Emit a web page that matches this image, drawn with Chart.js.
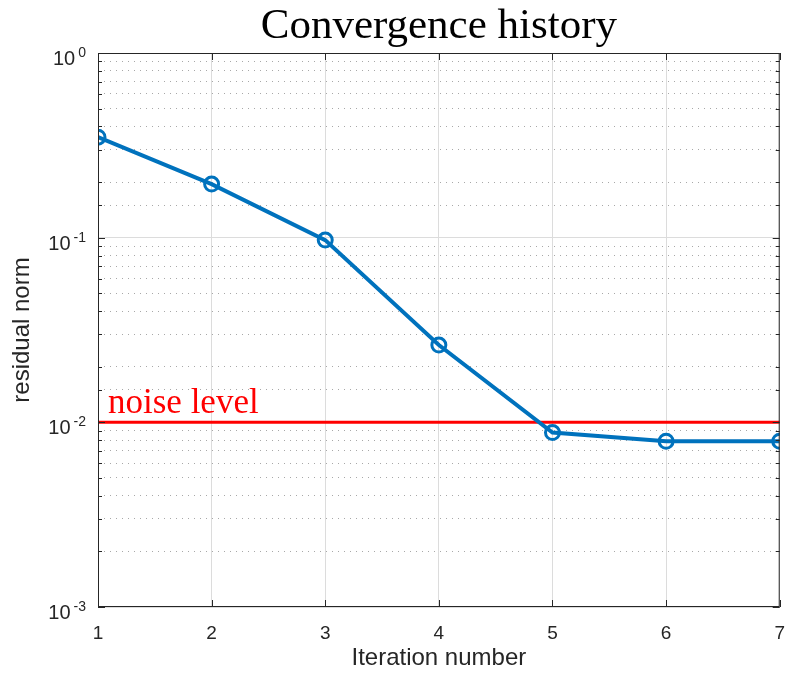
<!DOCTYPE html>
<html>
<head>
<meta charset="utf-8">
<script src="https://cdn.jsdelivr.net/npm/chart.js@4"></script>
<style>
  html, body { margin: 0; padding: 0; background: #fff; }
  #wrap { width: 800px; height: 678px; }
</style>
</head>
<body>
<div id="wrap"><canvas id="conv"></canvas></div>
<script>
// iterations and residual norms
const iterations = [1, 2, 3, 4, 5, 6, 7];
const residuals = [0.35, 0.195, 0.097, 0.0262, 0.0088, 0.0079, 0.0079];
const noiseLevel = 0.01;

// y axis decades, drawn as 10 with a raised exponent
const yDecades = [0.001, 0.01, 0.1, 1];
const yExponents = ["-3", "-2", "-1", "0"];

const decadeIndex = (v) => yDecades.findIndex((d) => Math.abs(v / d - 1) < 1e-6);
const isDecade = (v) => decadeIndex(v) >= 0;

// frame, inward ticks, title, y labels and "noise level" text (matlab style)
const matlabBox = {
    id: "matlabBox",
    afterDraw(chart) {
        const { ctx, chartArea: a, scales } = chart;
        ctx.save();
        ctx.strokeStyle = "#262626";
        ctx.lineWidth = 1;
        ctx.strokeRect(a.left + 0.5, a.top + 0.5, a.right - a.left - 1, a.bottom - a.top - 1);

        ctx.beginPath();
        scales.y.ticks.forEach((t) => {
            const y = Math.round(scales.y.getPixelForValue(t.value)) + 0.5;
            const len = isDecade(t.value) ? 7 : 4;
            ctx.moveTo(a.left, y);
            ctx.lineTo(a.left + len, y);
            ctx.moveTo(a.right, y);
            ctx.lineTo(a.right - len, y);
        });
        scales.x.ticks.forEach((t) => {
            const x = Math.round(scales.x.getPixelForValue(t.value)) + 0.5;
            ctx.moveTo(x, a.bottom);
            ctx.lineTo(x, a.bottom - 7);
            ctx.moveTo(x, a.top);
            ctx.lineTo(x, a.top + 7);
        });
        ctx.stroke();

        // y tick labels: 10^n
        ctx.fillStyle = "#262626";
        ctx.textAlign = "right";
        ctx.textBaseline = "alphabetic";
        scales.y.ticks.forEach((t) => {
            const i = decadeIndex(t.value);
            if (i < 0) return;
            const y = scales.y.getPixelForValue(t.value);
            const right = a.left - 12;
            ctx.font = "14px 'Liberation Sans', Arial";
            ctx.fillText(yExponents[i], right, y + 4);
            const w = ctx.measureText(yExponents[i]).width;
            ctx.font = "20px 'Liberation Sans', Arial";
            ctx.fillText("10", right - w - 3, y + 12);
        });

        // title centred over the plot area
        ctx.fillStyle = "#000";
        ctx.font = "43px 'Liberation Serif'";
        ctx.textAlign = "center";
        ctx.fillText("Convergence history", (a.left + a.right) / 2, 38);

        // noise level label
        ctx.fillStyle = "#ff0000";
        ctx.font = "35px 'Liberation Serif'";
        ctx.textAlign = "left";
        ctx.fillText("noise level", a.left + 10, scales.y.getPixelForValue(noiseLevel) - 9);
        ctx.restore();
    },
};

const convConfig = {
    type: "line",
    data: {
        datasets: [
            {
                label: "noise level",
                data: iterations.map((it) => ({ x: it, y: noiseLevel })),
                borderColor: "#ff0000",
                borderWidth: 3,
                pointRadius: 0,
                order: 2,
            },
            {
                label: "residual norm",
                data: iterations.map((it, i) => ({ x: it, y: residuals[i] })),
                borderColor: "#0072BD",
                borderWidth: 4,
                pointRadius: 7,
                pointBorderWidth: 3,
                pointBackgroundColor: "rgba(0,0,0,0)",
                pointBorderColor: "#0072BD",
                order: 1,
            },
        ],
    },
    options: {
        responsive: true,
        maintainAspectRatio: false,
        animation: false,
        layout: { padding: { top: 53, right: 20, left: 0, bottom: 0 } },
        plugins: {
            legend: { display: false },
            tooltip: { enabled: false },
        },
        scales: {
            x: {
                type: "linear",
                min: 1,
                max: 7,
                ticks: {
                    stepSize: 1,
                    padding: 15,
                    color: "#262626",
                    font: { family: "'Liberation Sans', Arial", size: 19 },
                },
                grid: { color: "#dcdcdc", drawTicks: false },
                border: { display: false },
                title: {
                    display: true,
                    text: "Iteration number",
                    color: "#262626",
                    font: { family: "'Liberation Sans', Arial", size: 24 },
                    padding: { top: 0, bottom: 5 },
                },
                afterFit(scale) {
                    scale.height = 71;
                },
            },
            y: {
                type: "logarithmic",
                min: 0.001,
                max: 1,
                ticks: {
                    autoSkip: false,
                    display: false,
                },
                grid: {
                    drawTicks: false,
                    color: (c) => (c.tick && isDecade(c.tick.value) ? "#dcdcdc" : "#a8a8a8"),
                },
                border: {
                    display: false,
                    dash: (c) => (c.tick && isDecade(c.tick.value) ? [] : [1, 5]),
                },
                title: {
                    display: true,
                    text: "residual norm",
                    color: "#262626",
                    font: { family: "'Liberation Sans', Arial", size: 24 },
                    padding: { top: 8, bottom: 0 },
                },
                afterFit(scale) {
                    scale.width = 98;
                },
            },
        },
    },
    plugins: [matlabBox],
};

const convCtx = document.getElementById("conv");
window.convChart = new Chart(convCtx, convConfig);
</script>
</body>
</html>
